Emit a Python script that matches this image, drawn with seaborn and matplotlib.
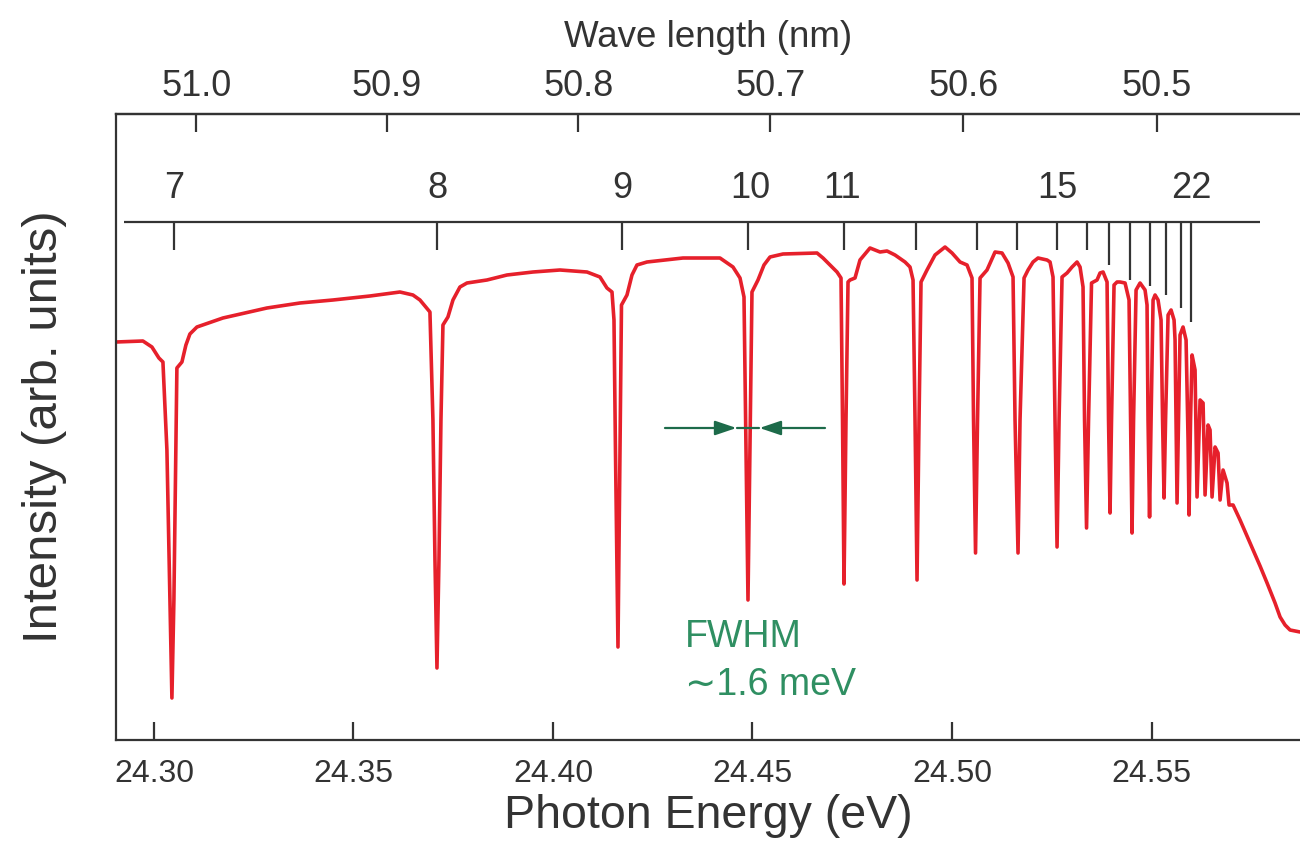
import numpy as np
import pandas as pd
import matplotlib
matplotlib.use("Agg")
import matplotlib.pyplot as plt
import seaborn as sns

# ---- photoabsorption spectrum trace (photon energy in eV, intensity in arb. units) ----
energy_ev = [
    24.29048, 24.29724, 24.29950, 24.30125, 24.30226, 24.30326, 24.30401, 24.30451,
    24.30501, 24.30551, 24.30576, 24.30702, 24.30802, 24.30902, 24.31078, 24.31729,
    24.32832, 24.33659, 24.34486, 24.35414, 24.36165, 24.36491, 24.36667, 24.36792,
    24.36917, 24.36992, 24.37043, 24.37093, 24.37143, 24.37193, 24.37243, 24.37368,
    24.37494, 24.37669, 24.37845, 24.38346, 24.38847, 24.39499, 24.40175, 24.40852,
    24.41178, 24.41353, 24.41479, 24.41529, 24.41566, 24.41629, 24.41679, 24.41717,
    24.41855, 24.41980, 24.42105, 24.42356, 24.43258, 24.44185, 24.44511, 24.44687,
    24.44787, 24.44837, 24.44887, 24.44937, 24.44987, 24.45138, 24.45288, 24.45439,
    24.45764, 24.46617, 24.46767, 24.46942, 24.47118, 24.47218, 24.47256, 24.47293,
    24.47343, 24.47394, 24.47444, 24.47569, 24.47694, 24.47945, 24.48196, 24.48371,
    24.48571, 24.48822, 24.48947, 24.49023, 24.49073, 24.49123, 24.49173, 24.49223,
    24.49373, 24.49574, 24.49825, 24.50000, 24.50201, 24.50376, 24.50501, 24.50539,
    24.50589, 24.50639, 24.50702, 24.50877, 24.51078, 24.51253, 24.51404, 24.51529,
    24.51579, 24.51654, 24.51704, 24.51805, 24.51905, 24.52030, 24.52155, 24.52381,
    24.52456, 24.52531, 24.52581, 24.52632, 24.52682, 24.52757, 24.52882, 24.53008,
    24.53133, 24.53208, 24.53283, 24.53321, 24.53371, 24.53421, 24.53496, 24.53634,
    24.53709, 24.53785, 24.53885, 24.53922, 24.53960, 24.53997, 24.54060, 24.54135,
    24.54211, 24.54336, 24.54436, 24.54474, 24.54511, 24.54549, 24.54612, 24.54712,
    24.54837, 24.54887, 24.54912, 24.54950, 24.54988, 24.55038, 24.55088, 24.55163,
    24.55238, 24.55276, 24.55313, 24.55351, 24.55414, 24.55489, 24.55564, 24.55589,
    24.55614, 24.55639, 24.55677, 24.55714, 24.55789, 24.55865, 24.55915, 24.55940,
    24.55977, 24.56015, 24.56090, 24.56140, 24.56216, 24.56291, 24.56341, 24.56416,
    24.56466, 24.56516, 24.56592, 24.56667, 24.56717, 24.56792, 24.56892, 24.56942,
    24.57043, 24.57218, 24.57469, 24.57719, 24.57895, 24.58095, 24.58221, 24.58346,
    24.58471, 24.58722,
]
intensity = [
    3.98, 3.99, 3.93, 3.82, 3.78, 2.90, 1.40, 0.42,
    1.40, 2.90, 3.72, 3.78, 3.95, 4.06, 4.13, 4.22,
    4.32, 4.37, 4.40, 4.44, 4.48, 4.45, 4.40, 4.34,
    4.28, 3.20, 1.80, 0.72, 1.80, 3.20, 4.15, 4.23,
    4.40, 4.53, 4.57, 4.60, 4.65, 4.68, 4.70, 4.68,
    4.63, 4.52, 4.48, 4.20, 2.90, 0.93, 2.90, 4.35,
    4.45, 4.65, 4.75, 4.78, 4.82, 4.82, 4.73, 4.62,
    4.43, 2.90, 1.40, 2.90, 4.48, 4.60, 4.75, 4.83,
    4.86, 4.87, 4.82, 4.75, 4.68, 4.62, 3.20, 1.56,
    3.20, 4.58, 4.60, 4.62, 4.80, 4.92, 4.88, 4.89,
    4.85, 4.78, 4.73, 4.60, 3.20, 1.60, 3.20, 4.58,
    4.70, 4.85, 4.93, 4.87, 4.78, 4.75, 4.62, 3.20,
    1.87, 3.20, 4.62, 4.70, 4.88, 4.87, 4.77, 4.63,
    3.20, 1.87, 3.20, 4.62, 4.70, 4.78, 4.82, 4.80,
    4.78, 4.63, 3.20, 1.93, 3.20, 4.63, 4.67, 4.73,
    4.78, 4.73, 4.53, 3.20, 2.12, 3.20, 4.57, 4.60,
    4.67, 4.68, 4.58, 3.20, 2.27, 3.20, 4.55, 4.58,
    4.58, 4.57, 4.40, 3.20, 2.07, 3.20, 4.50, 4.57,
    4.50, 4.35, 3.20, 2.23, 3.20, 4.40, 4.45, 4.40,
    4.20, 3.20, 2.42, 3.20, 4.25, 4.30, 4.20, 4.00,
    3.20, 2.37, 3.20, 4.05, 4.13, 4.00, 3.00, 2.25,
    3.20, 3.85, 3.70, 2.43, 3.40, 3.37, 2.45, 3.15,
    3.10, 2.43, 2.93, 2.87, 2.40, 2.70, 2.57, 2.35,
    2.35, 2.20, 1.97, 1.74, 1.57, 1.37, 1.23, 1.15,
    1.10, 1.08,
]

# ---- Rydberg series levels (principal quantum number n) ----
level_n = [7, 8, 9, 10, 11, 12, 13, 14, 15, 16, 17, 18, 19, 20, 21, 22]
level_ev = [24.30501, 24.37093, 24.41729, 24.44887, 24.47293, 24.49098, 24.50627,
            24.51629, 24.52632, 24.53383, 24.53935, 24.54461, 24.54962, 24.55363,
            24.55739, 24.55990]
level_mark_low = [4.90, 4.90, 4.90, 4.90, 4.90, 4.90, 4.90, 4.90, 4.90, 4.90,
                  4.75, 4.60, 4.54, 4.45, 4.32, 4.18]
labelled_n = [7, 8, 9, 10, 11, 15, 22]

# ---- axis ticks ----
energy_ticks = [24.30, 24.35, 24.40, 24.45, 24.50, 24.55]
wavelength_ticks = [51.0, 50.9, 50.8, 50.7, 50.6, 50.5]

# ---- linewidth annotation ----
fwhm_line_ev = 24.44887
fwhm_lines = ["FWHM", "\u223c1.6 meV"]

HC = 1239.84198  # eV nm

sns.set_theme(style="white")
plt.rcParams["font.family"] = ["Liberation Sans", "DejaVu Sans"]

INK = "#333333"
RED = "#e6202b"
GREEN_TXT = "#2f8f62"
GREEN_ARR = "#1d6b4a"

fig = plt.figure(figsize=(13, 8.44), dpi=100)
ax = fig.add_axes([116 / 1300, 104 / 844, 1184 / 1300, 626 / 844])

df = pd.DataFrame({"energy": energy_ev, "intensity": intensity})
sns.lineplot(data=df, x="energy", y="intensity", sort=False, estimator=None,
             color=RED, linewidth=2.6, ax=ax)

ax.set_xlim(24.2905, 24.5872)
ax.set_ylim(0, 6.26)

# level ladder
ladder_y = 5.18
ax.plot([24.29248, 24.57720], [ladder_y, ladder_y], color=INK, lw=1.6,
        solid_capstyle="butt")
ax.vlines(level_ev, level_mark_low, ladder_y, color=INK, lw=1.6)
nudge = {10: 1.5, 11: -1.5}
for n, e in zip(level_n, level_ev):
    if n in labelled_n:
        ax.annotate(str(n), xy=(e, 5.52), xytext=(nudge.get(n, 0), 0),
                    textcoords="offset points", ha="center", va="center",
                    fontsize=26, color=INK)

# FWHM arrows
arr_y = 3.12
for start in (24.42807, 24.46817):
    ax.annotate("", xy=(fwhm_line_ev, arr_y), xytext=(start, arr_y),
                arrowprops=dict(arrowstyle="-|>,head_length=0.65,head_width=0.22",
                                mutation_scale=20, color=GREEN_ARR, lw=1.6,
                                shrinkA=0, shrinkB=8.3))
ax.plot([24.44600, 24.45170], [arr_y, arr_y], color=GREEN_ARR, lw=1.6)
ax.text(24.43308, 1.03, fwhm_lines[0], ha="left", va="center", fontsize=27,
        color=GREEN_TXT)
ax.text(24.43308, 0.55, fwhm_lines[1], ha="left", va="center", fontsize=27,
        color=GREEN_TXT)

# axes styling
for side in ("left", "bottom", "top"):
    ax.spines[side].set_color(INK)
    ax.spines[side].set_linewidth(1.6)
ax.spines["right"].set_visible(False)
ax.set_yticks([])
ax.set_xticks(energy_ticks)
ax.set_xticklabels([f"{t:.2f}" for t in energy_ticks])
ax.tick_params(axis="x", direction="in", length=13, width=1.6, colors=INK,
               labelsize=23, pad=14, bottom=True, top=False)
ax.set_xlabel("Photon Energy (eV)", fontsize=33.5, color=INK, labelpad=3)
ax.set_ylabel("Intensity (arb. units)", fontsize=35.5, color=INK, labelpad=35)


def ev_to_nm(e):
    e = np.asarray(e, dtype=float)
    with np.errstate(divide="ignore", invalid="ignore"):
        return HC / e


sec = ax.secondary_xaxis("top", functions=(ev_to_nm, ev_to_nm))
sec.set_xticks(wavelength_ticks)
sec.set_xticklabels([f"{w:.1f}" for w in wavelength_ticks])
sec.tick_params(axis="x", direction="in", length=13, width=1.6, colors=INK,
                labelsize=26, pad=7)
sec.spines["top"].set_color(INK)
sec.spines["top"].set_linewidth(1.6)
sec.set_xlabel("Wave length (nm)", fontsize=26.5, color=INK, labelpad=16)

fig.savefig("out.png", dpi=100)
